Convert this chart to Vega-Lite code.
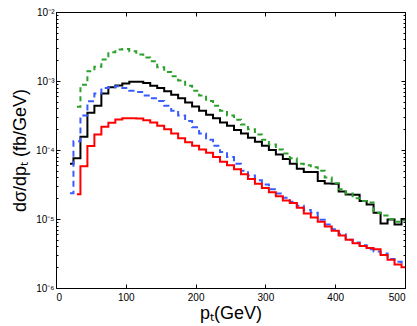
{
 "$schema": "https://vega.github.io/schema/vega-lite/v6.json",
 "width": 349,
 "height": 276,
 "autosize": {"type": "none"},
 "padding": {"left": 56, "top": 12, "right": 12, "bottom": 38},
 "background": "white",
 "config": {
  "view": {"stroke": null},
  "font": "Liberation Sans",
  "axis": {"grid": false, "domainColor": "#000", "tickColor": "#000", "labelColor": "#000", "titleColor": "#000", "labelFontSize": 10, "titleFontSize": 18, "titleFontWeight": "normal", "labelFont": "Liberation Sans", "titleFont": "Liberation Sans"}
 },
 "datasets": {
  "h": [
   {"s":"black","x":20,"y":6.31e-5},{"s":"black","x":30,"y":7.59e-5},{"s":"black","x":40,"y":1.55e-4},{"s":"black","x":50,"y":3.47e-4},{"s":"black","x":60,"y":4.37e-4},{"s":"black","x":70,"y":6.61e-4},{"s":"black","x":80,"y":8.13e-4},{"s":"black","x":90,"y":8.61e-4},{"s":"black","x":100,"y":9.2e-4},{"s":"black","x":110,"y":9.72e-4},{"s":"black","x":120,"y":9.77e-4},{"s":"black","x":130,"y":9.33e-4},{"s":"black","x":140,"y":8.51e-4},{"s":"black","x":150,"y":7.94e-4},{"s":"black","x":160,"y":7.08e-4},{"s":"black","x":170,"y":6.31e-4},{"s":"black","x":180,"y":5.62e-4},{"s":"black","x":190,"y":4.9e-4},{"s":"black","x":200,"y":4.27e-4},{"s":"black","x":210,"y":3.72e-4},{"s":"black","x":220,"y":3.24e-4},{"s":"black","x":230,"y":2.88e-4},{"s":"black","x":240,"y":2.51e-4},{"s":"black","x":250,"y":2.24e-4},{"s":"black","x":260,"y":1.95e-4},{"s":"black","x":270,"y":1.74e-4},{"s":"black","x":280,"y":1.51e-4},{"s":"black","x":290,"y":1.32e-4},{"s":"black","x":300,"y":1.15e-4},{"s":"black","x":310,"y":1.0e-4},{"s":"black","x":320,"y":8.61e-5},{"s":"black","x":330,"y":7.41e-5},{"s":"black","x":340,"y":6.31e-5},{"s":"black","x":350,"y":5.37e-5},{"s":"black","x":360,"y":4.79e-5},{"s":"black","x":370,"y":4.79e-5},{"s":"black","x":380,"y":3.55e-5},{"s":"black","x":390,"y":3.27e-5},{"s":"black","x":400,"y":3.24e-5},{"s":"black","x":410,"y":2.51e-5},{"s":"black","x":420,"y":2.26e-5},{"s":"black","x":430,"y":2.24e-5},{"s":"black","x":440,"y":1.82e-5},{"s":"black","x":450,"y":1.62e-5},{"s":"black","x":460,"y":1.23e-5},{"s":"black","x":470,"y":8.61e-6},{"s":"black","x":480,"y":9.84e-6},{"s":"black","x":490,"y":8.32e-6},{"s":"black","x":500,"y":1.0e-5},
   {"s":"green","x":30,"y":4.23e-4},{"s":"green","x":40,"y":8.81e-4},{"s":"green","x":50,"y":1.39e-3},{"s":"green","x":60,"y":1.61e-3},{"s":"green","x":70,"y":2.05e-3},{"s":"green","x":80,"y":2.62e-3},{"s":"green","x":90,"y":2.86e-3},{"s":"green","x":100,"y":2.92e-3},{"s":"green","x":110,"y":2.7e-3},{"s":"green","x":120,"y":2.42e-3},{"s":"green","x":130,"y":2.19e-3},{"s":"green","x":140,"y":1.94e-3},{"s":"green","x":150,"y":1.58e-3},{"s":"green","x":160,"y":1.35e-3},{"s":"green","x":170,"y":1.17e-3},{"s":"green","x":180,"y":1.02e-3},{"s":"green","x":190,"y":8.51e-4},{"s":"green","x":200,"y":7.24e-4},{"s":"green","x":210,"y":6.17e-4},{"s":"green","x":220,"y":5.13e-4},{"s":"green","x":230,"y":4.37e-4},{"s":"green","x":240,"y":3.72e-4},{"s":"green","x":250,"y":3.16e-4},{"s":"green","x":260,"y":2.75e-4},{"s":"green","x":270,"y":2.34e-4},{"s":"green","x":280,"y":2.0e-4},{"s":"green","x":290,"y":1.68e-4},{"s":"green","x":300,"y":1.41e-4},{"s":"green","x":310,"y":1.2e-4},{"s":"green","x":320,"y":1.02e-4},{"s":"green","x":330,"y":8.91e-5},{"s":"green","x":340,"y":7.59e-5},{"s":"green","x":350,"y":6.31e-5},{"s":"green","x":360,"y":6.03e-5},{"s":"green","x":370,"y":5.62e-5},{"s":"green","x":380,"y":5.01e-5},{"s":"green","x":390,"y":3.98e-5},{"s":"green","x":400,"y":3.31e-5},{"s":"green","x":410,"y":2.69e-5},{"s":"green","x":420,"y":2.34e-5},{"s":"green","x":430,"y":2.0e-5},{"s":"green","x":440,"y":1.82e-5},{"s":"green","x":450,"y":1.74e-5},{"s":"green","x":460,"y":1.23e-5},{"s":"green","x":470,"y":1.12e-5},{"s":"green","x":480,"y":1.0e-5},{"s":"green","x":490,"y":9.12e-6},{"s":"green","x":500,"y":9.55e-6},
   {"s":"blue","x":20,"y":2.37e-5},{"s":"blue","x":30,"y":1.34e-4},{"s":"blue","x":40,"y":3.16e-4},{"s":"blue","x":50,"y":5.09e-4},{"s":"blue","x":60,"y":6.59e-4},{"s":"blue","x":70,"y":7.94e-4},{"s":"blue","x":80,"y":8.13e-4},{"s":"blue","x":90,"y":8.41e-4},{"s":"blue","x":100,"y":7.94e-4},{"s":"blue","x":110,"y":7.24e-4},{"s":"blue","x":120,"y":6.92e-4},{"s":"blue","x":130,"y":6.17e-4},{"s":"blue","x":140,"y":5.62e-4},{"s":"blue","x":150,"y":5.13e-4},{"s":"blue","x":160,"y":4.37e-4},{"s":"blue","x":170,"y":3.72e-4},{"s":"blue","x":180,"y":3.16e-4},{"s":"blue","x":190,"y":2.63e-4},{"s":"blue","x":200,"y":2.14e-4},{"s":"blue","x":210,"y":1.74e-4},{"s":"blue","x":220,"y":1.41e-4},{"s":"blue","x":230,"y":1.15e-4},{"s":"blue","x":240,"y":9.33e-5},{"s":"blue","x":250,"y":7.94e-5},{"s":"blue","x":260,"y":6.31e-5},{"s":"blue","x":270,"y":5.01e-5},{"s":"blue","x":280,"y":4.27e-5},{"s":"blue","x":290,"y":3.63e-5},{"s":"blue","x":300,"y":3.16e-5},{"s":"blue","x":310,"y":2.69e-5},{"s":"blue","x":320,"y":2.34e-5},{"s":"blue","x":330,"y":2.04e-5},{"s":"blue","x":340,"y":1.78e-5},{"s":"blue","x":350,"y":1.55e-5},{"s":"blue","x":360,"y":1.35e-5},{"s":"blue","x":370,"y":1.23e-5},{"s":"blue","x":380,"y":9.77e-6},{"s":"blue","x":390,"y":8.32e-6},{"s":"blue","x":400,"y":7.08e-6},{"s":"blue","x":410,"y":6.03e-6},{"s":"blue","x":420,"y":5.01e-6},{"s":"blue","x":430,"y":4.57e-6},{"s":"blue","x":440,"y":4.17e-6},{"s":"blue","x":450,"y":3.63e-6},{"s":"blue","x":460,"y":3.39e-6},{"s":"blue","x":470,"y":3.16e-6},{"s":"blue","x":480,"y":2.63e-6},{"s":"blue","x":490,"y":2.4e-6},{"s":"blue","x":500,"y":2.34e-6},
   {"s":"red","x":30,"y":2.29e-5},{"s":"red","x":40,"y":5.82e-5},{"s":"red","x":50,"y":1.14e-4},{"s":"red","x":60,"y":1.68e-4},{"s":"red","x":70,"y":2.17e-4},{"s":"red","x":80,"y":2.48e-4},{"s":"red","x":90,"y":2.77e-4},{"s":"red","x":100,"y":2.89e-4},{"s":"red","x":110,"y":2.89e-4},{"s":"red","x":120,"y":2.85e-4},{"s":"red","x":130,"y":2.69e-4},{"s":"red","x":140,"y":2.51e-4},{"s":"red","x":150,"y":2.24e-4},{"s":"red","x":160,"y":2.0e-4},{"s":"red","x":170,"y":1.74e-4},{"s":"red","x":180,"y":1.48e-4},{"s":"red","x":190,"y":1.29e-4},{"s":"red","x":200,"y":1.15e-4},{"s":"red","x":210,"y":1.02e-4},{"s":"red","x":220,"y":9.12e-5},{"s":"red","x":230,"y":7.94e-5},{"s":"red","x":240,"y":6.76e-5},{"s":"red","x":250,"y":6.03e-5},{"s":"red","x":260,"y":5.25e-5},{"s":"red","x":270,"y":4.47e-5},{"s":"red","x":280,"y":3.8e-5},{"s":"red","x":290,"y":3.24e-5},{"s":"red","x":300,"y":2.82e-5},{"s":"red","x":310,"y":2.45e-5},{"s":"red","x":320,"y":2.14e-5},{"s":"red","x":330,"y":1.86e-5},{"s":"red","x":340,"y":1.7e-5},{"s":"red","x":350,"y":1.45e-5},{"s":"red","x":360,"y":1.2e-5},{"s":"red","x":370,"y":1.05e-5},{"s":"red","x":380,"y":9.12e-6},{"s":"red","x":390,"y":7.76e-6},{"s":"red","x":400,"y":6.76e-6},{"s":"red","x":410,"y":5.75e-6},{"s":"red","x":420,"y":5.01e-6},{"s":"red","x":430,"y":4.47e-6},{"s":"red","x":440,"y":4.07e-6},{"s":"red","x":450,"y":3.8e-6},{"s":"red","x":460,"y":3.63e-6},{"s":"red","x":470,"y":3.02e-6},{"s":"red","x":480,"y":2.57e-6},{"s":"red","x":490,"y":2.19e-6},{"s":"red","x":500,"y":2.0e-6}
  ]
 },
 "data": {"name": "h"},
 "layer": [
  {
   "mark": {"type": "line", "interpolate": "step", "strokeWidth": 2, "clip": true},
   "encoding": {
    "x": {"field": "x", "type": "quantitative", "scale": {"domain": [0, 500], "nice": false},
      "axis": {"orient": "bottom", "values": [0, 100, 200, 300, 400, 500], "tickSize": -4, "labelPadding": 8, "title": "pₜ(GeV)", "titlePadding": 2}},
    "y": {"field": "y", "type": "quantitative", "scale": {"type": "log", "domain": [1e-6, 1e-2], "nice": false},
      "axis": {"orient": "left",
        "values": [1e-6,2e-6,3e-6,4e-6,5e-6,6e-6,7e-6,8e-6,9e-6,1e-5,2e-5,3e-5,4e-5,5e-5,6e-5,7e-5,8e-5,9e-5,1e-4,2e-4,3e-4,4e-4,5e-4,6e-4,7e-4,8e-4,9e-4,1e-3,2e-3,3e-3,4e-3,5e-3,6e-3,7e-3,8e-3,9e-3,1e-2],
        "labelExpr": "datum.value==1e-2?'10⁻²':datum.value==1e-3?'10⁻³':datum.value==1e-4?'10⁻⁴':datum.value==1e-5?'10⁻⁵':datum.value==1e-6?'10⁻⁶':''",
        "tickSize": {"condition": {"test": "indexof([1e-6,1e-5,1e-4,1e-3,1e-2], datum.value) >= 0", "value": -4}, "value": -2},
        "labelPadding": 6,
        "title": "dσ/dpₜ (fb/GeV)", "titlePadding": 6}},
    "color": {"field": "s", "type": "nominal", "legend": null,
      "scale": {"domain": ["black", "green", "blue", "red"], "range": ["#000000", "#2ca02c", "#3a5cff", "#ff0000"]}},
    "strokeDash": {"field": "s", "type": "nominal", "legend": null,
      "scale": {"domain": ["black", "green", "blue", "red"], "range": [[1, 0], [5, 4], [6, 4], [1, 0]]}}
   }
  },
  {
   "mark": {"type": "line", "opacity": 0},
   "encoding": {
    "x": {"field": "x", "type": "quantitative", "scale": {"domain": [0, 500], "nice": false},
      "axis": {"orient": "top", "values": [0, 100, 200, 300, 400, 500], "tickSize": -4, "labels": false, "title": null}},
    "y": {"field": "y", "type": "quantitative", "scale": {"type": "log", "domain": [1e-6, 1e-2], "nice": false},
      "axis": {"orient": "right",
        "values": [1e-6,2e-6,3e-6,4e-6,5e-6,6e-6,7e-6,8e-6,9e-6,1e-5,2e-5,3e-5,4e-5,5e-5,6e-5,7e-5,8e-5,9e-5,1e-4,2e-4,3e-4,4e-4,5e-4,6e-4,7e-4,8e-4,9e-4,1e-3,2e-3,3e-3,4e-3,5e-3,6e-3,7e-3,8e-3,9e-3,1e-2],
        "tickSize": {"condition": {"test": "indexof([1e-6,1e-5,1e-4,1e-3,1e-2], datum.value) >= 0", "value": -4}, "value": -2},
        "labels": false, "title": null}},
    "detail": {"field": "s", "type": "nominal"}
   }
  }
 ],
 "resolve": {"axis": {"x": "independent", "y": "independent"}}
}
